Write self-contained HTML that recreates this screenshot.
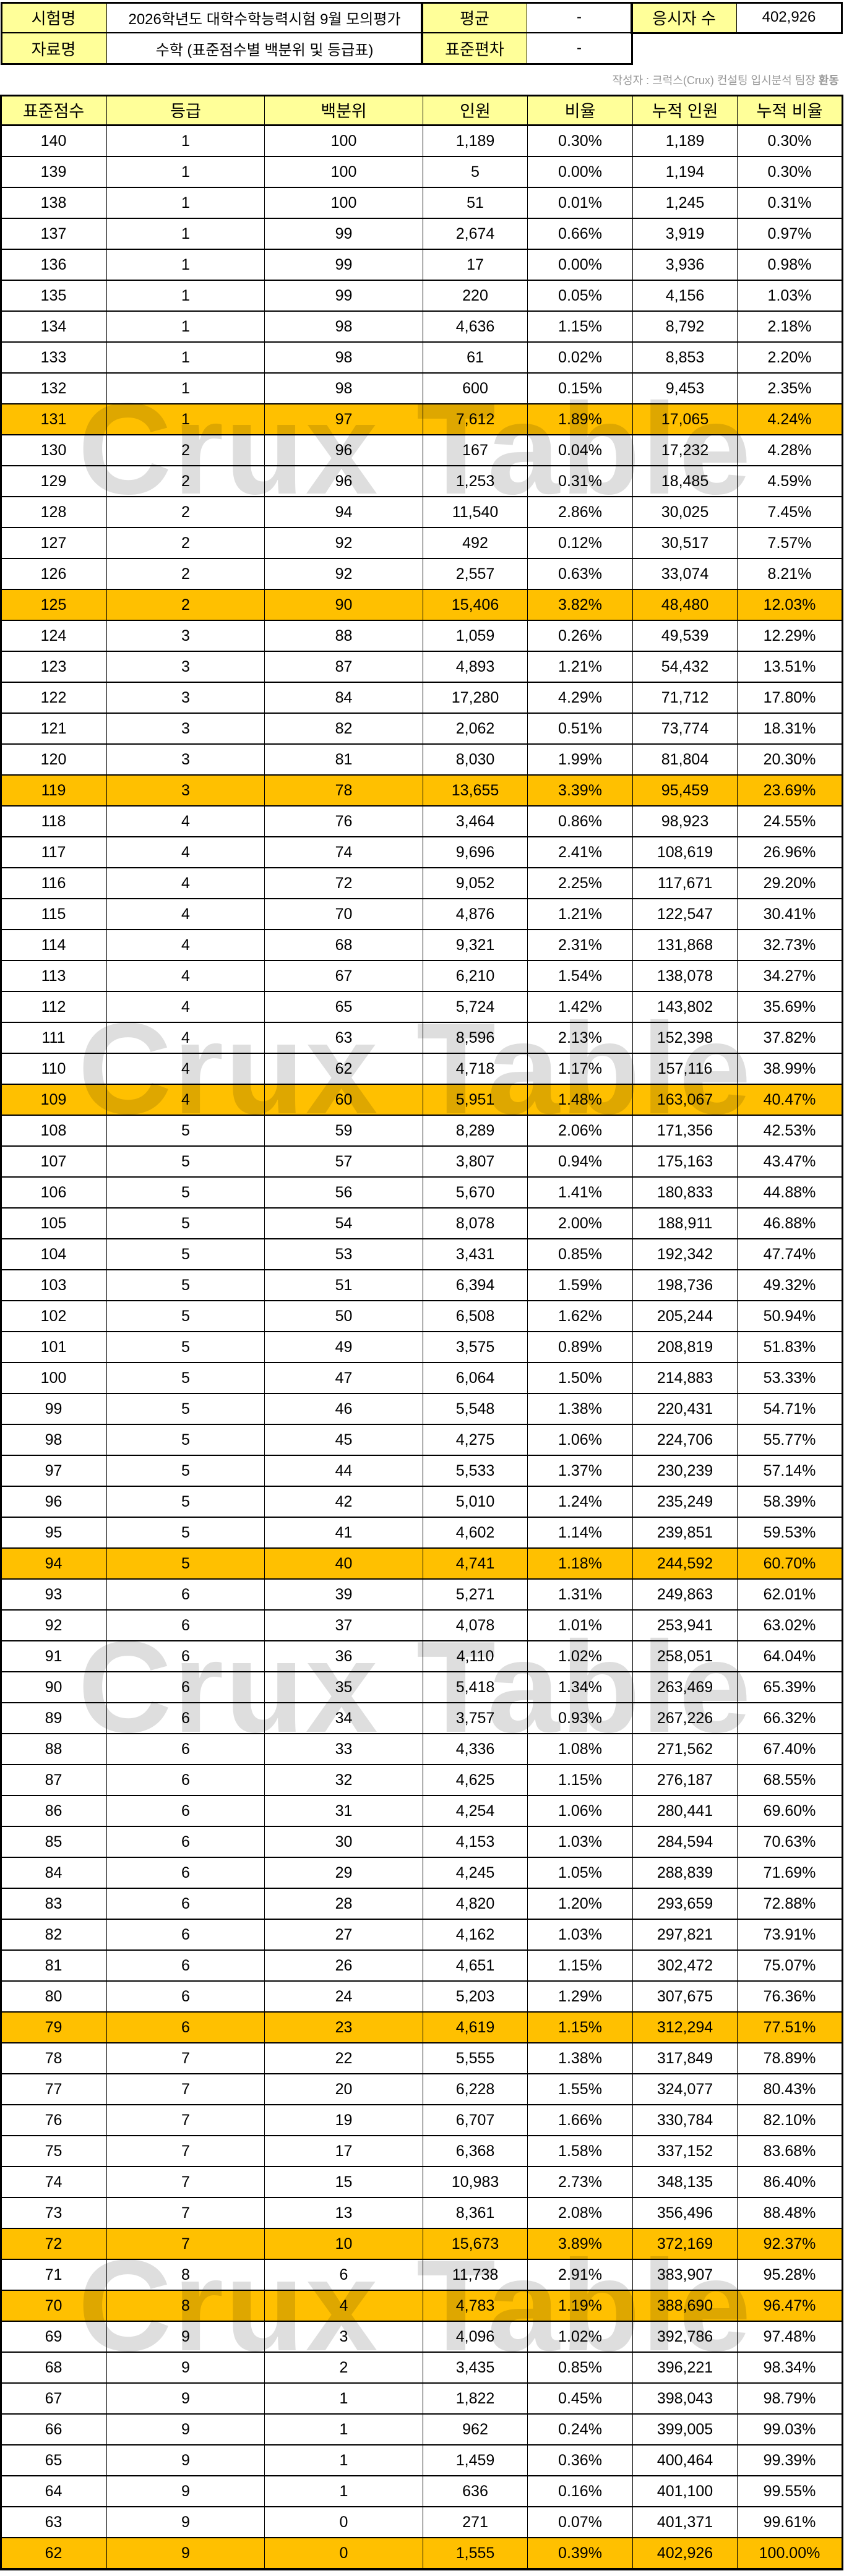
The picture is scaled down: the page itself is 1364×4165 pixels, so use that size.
<!DOCTYPE html>
<html><head><meta charset="utf-8">
<style>
html,body{margin:0;padding:0;background:#fff;}
body{width:1364px;height:4165px;position:relative;overflow:hidden;font-family:"Liberation Sans","Noto Sans CJK KR",sans-serif;}
.c{position:absolute;box-sizing:border-box;display:flex;align-items:center;justify-content:center;color:#000;font-size:25px;border-right:1px solid #000;border-bottom:2px solid #000;}
.y{background:#FFFF99;}
.h{background:#FFC000;}
.wm{position:absolute;left:126px;font-size:210px;line-height:1;font-weight:bold;color:rgba(0,0,0,0.13);letter-spacing:2px;white-space:nowrap;pointer-events:none;font-family:"Liberation Sans",sans-serif;}
.box{position:absolute;border:3px solid #000;box-sizing:border-box;pointer-events:none;}
</style></head>
<body>
<div id="top"></div>
<div id="author" style="position:absolute;right:8px;top:116px;font-size:18px;color:#999;">작성자 : 크럭스(Crux) 컨설팅 입시분석 팀장 <b>환동</b></div>
<div id="main"></div>
<script>
const scores=[140,139,138,137,136,135,134,133,132,131,130,129,128,127,126,125,124,123,122,121,120,119,118,117,116,115,114,113,112,111,110,109,108,107,106,105,104,103,102,101,100,99,98,97,96,95,94,93,92,91,90,89,88,87,86,85,84,83,82,81,80,79,78,77,76,75,74,73,72,71,70,69,68,67,66,65,64,63,62];
const grades=[1,1,1,1,1,1,1,1,1,1,2,2,2,2,2,2,3,3,3,3,3,3,4,4,4,4,4,4,4,4,4,4,5,5,5,5,5,5,5,5,5,5,5,5,5,5,5,6,6,6,6,6,6,6,6,6,6,6,6,6,6,6,7,7,7,7,7,7,7,8,8,9,9,9,9,9,9,9,9];
const percentiles=[100,100,100,99,99,99,98,98,98,97,96,96,94,92,92,90,88,87,84,82,81,78,76,74,72,70,68,67,65,63,62,60,59,57,56,54,53,51,50,49,47,46,45,44,42,41,40,39,37,36,35,34,33,32,31,30,29,28,27,26,24,23,22,20,19,17,15,13,10,6,4,3,2,1,1,1,1,0,0];
const counts=["1,189","5","51","2,674","17","220","4,636","61","600","7,612","167","1,253","11,540","492","2,557","15,406","1,059","4,893","17,280","2,062","8,030","13,655","3,464","9,696","9,052","4,876","9,321","6,210","5,724","8,596","4,718","5,951","8,289","3,807","5,670","8,078","3,431","6,394","6,508","3,575","6,064","5,548","4,275","5,533","5,010","4,602","4,741","5,271","4,078","4,110","5,418","3,757","4,336","4,625","4,254","4,153","4,245","4,820","4,162","4,651","5,203","4,619","5,555","6,228","6,707","6,368","10,983","8,361","15,673","11,738","4,783","4,096","3,435","1,822","962","1,459","636","271","1,555"];
const ratios=["0.30%","0.00%","0.01%","0.66%","0.00%","0.05%","1.15%","0.02%","0.15%","1.89%","0.04%","0.31%","2.86%","0.12%","0.63%","3.82%","0.26%","1.21%","4.29%","0.51%","1.99%","3.39%","0.86%","2.41%","2.25%","1.21%","2.31%","1.54%","1.42%","2.13%","1.17%","1.48%","2.06%","0.94%","1.41%","2.00%","0.85%","1.59%","1.62%","0.89%","1.50%","1.38%","1.06%","1.37%","1.24%","1.14%","1.18%","1.31%","1.01%","1.02%","1.34%","0.93%","1.08%","1.15%","1.06%","1.03%","1.05%","1.20%","1.03%","1.15%","1.29%","1.15%","1.38%","1.55%","1.66%","1.58%","2.73%","2.08%","3.89%","2.91%","1.19%","1.02%","0.85%","0.45%","0.24%","0.36%","0.16%","0.07%","0.39%"];
const cumCounts=["1,189","1,194","1,245","3,919","3,936","4,156","8,792","8,853","9,453","17,065","17,232","18,485","30,025","30,517","33,074","48,480","49,539","54,432","71,712","73,774","81,804","95,459","98,923","108,619","117,671","122,547","131,868","138,078","143,802","152,398","157,116","163,067","171,356","175,163","180,833","188,911","192,342","198,736","205,244","208,819","214,883","220,431","224,706","230,239","235,249","239,851","244,592","249,863","253,941","258,051","263,469","267,226","271,562","276,187","280,441","284,594","288,839","293,659","297,821","302,472","307,675","312,294","317,849","324,077","330,784","337,152","348,135","356,496","372,169","383,907","388,690","392,786","396,221","398,043","399,005","400,464","401,100","401,371","402,926"];
const cumRatios=["0.30%","0.30%","0.31%","0.97%","0.98%","1.03%","2.18%","2.20%","2.35%","4.24%","4.28%","4.59%","7.45%","7.57%","8.21%","12.03%","12.29%","13.51%","17.80%","18.31%","20.30%","23.69%","24.55%","26.96%","29.20%","30.41%","32.73%","34.27%","35.69%","37.82%","38.99%","40.47%","42.53%","43.47%","44.88%","46.88%","47.74%","49.32%","50.94%","51.83%","53.33%","54.71%","55.77%","57.14%","58.39%","59.53%","60.70%","62.01%","63.02%","64.04%","65.39%","66.32%","67.40%","68.55%","69.60%","70.63%","71.69%","72.88%","73.91%","75.07%","76.36%","77.51%","78.89%","80.43%","82.10%","83.68%","86.40%","88.48%","92.37%","95.28%","96.47%","97.48%","98.34%","98.79%","99.03%","99.39%","99.55%","99.61%","100.00%"];
const highlighted=[131,125,119,109,94,79,72,70,62];
const headers=["표준점수","등급","백분위","인원","비율","누적 인원","누적 비율"];
const headerNames=["score-header","grade-header","percentile-header","count-header","ratio-header","cum-count-header","cum-ratio-header"];

const body=document.body;
function cell(x,y,w,h,text,cls,fs){
  const d=document.createElement('div');
  d.className='c '+(cls||'');
  d.style.left=x+'px';d.style.top=y+'px';d.style.width=w+'px';d.style.height=h+'px';
  if(fs)d.style.fontSize=fs+'px';
  d.textContent=text;
  body.appendChild(d);
  return d;
}
function box(x,y,w,h){
  const b=document.createElement('div');b.className='box';
  b.style.left=x+'px';b.style.top=y+'px';b.style.width=w+'px';b.style.height=h+'px';
  body.appendChild(b);return b;
}
// top info table
let e;
e=cell(1,4,172,50,'시험명','y',26);


e=cell(173,4,510,50,'2026학년도 대학수학능력시험 9월 모의평가','',24);


e=cell(683,4,169,50,'평균','y',26);


e=cell(852,4,169,50,'-','',24);


e=cell(1021,4,170,50,'응시자 수','y',26);


e=cell(1191,4,169,50,'402,926','',24);


e=cell(1,54,172,50,'자료명','y',26);


e=cell(173,54,510,50,'수학 (표준점수별 백분위 및 등급표)','',24);


e=cell(683,54,169,50,'표준편차','y',26);


e=cell(852,54,169,50,'-','',24);


box(1,3,682,102);box(681,3,342,102);box(1019,3,343,52);

// main table
const cols=[1,173,428,684,853,1023,1192,1361];
const colNames=['score','grade','percentile','count','ratio','cum-count','cum-ratio'];
const top0=154,rh=50;
for(let i=0;i<7;i++){
  e=cell(cols[i],top0,cols[i+1]-cols[i],rh,headers[i],'y',27);
  e.style.borderBottom='3px solid #000';
  
  
}
for(let r=0;r<scores.length;r++){
  const vals=[scores[r],grades[r],percentiles[r],counts[r],ratios[r],cumCounts[r],cumRatios[r]];
  const hl=highlighted.includes(scores[r])?'h':'';
  const y=top0+rh*(r+1);
  for(let i=0;i<7;i++){
    e=cell(cols[i],y,cols[i+1]-cols[i],rh,String(vals[i]),hl);
    
    
  }
}
box(0,top0-1,1363,rh*80+3);

// watermarks
const wmTops=[648,1650,2650,3650];
for(const t of wmTops){
  const w=document.createElement('div');w.className='wm';
  w.style.top=(t-27)+'px';
  w.textContent='Crux Table';
  
  
  body.appendChild(w);
}
</script>
</body></html>
